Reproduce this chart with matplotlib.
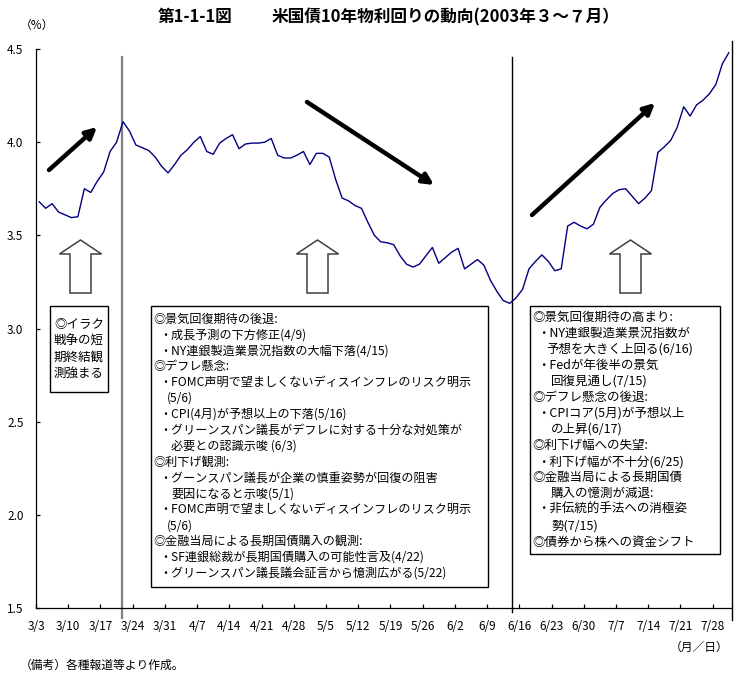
import matplotlib
matplotlib.use("Agg")
import matplotlib.pyplot as plt
from matplotlib.patches import Rectangle, Polygon

plt.rcParams['font.family'] = ['Noto Sans CJK JP', 'DejaVu Sans']

W, H = 755, 681

## 米国債10年物利回り (%), 2003/3/3～7/31 の営業日ごと
yields = [3.68, 3.645, 3.67, 3.625, 3.61, 3.595, 3.60, 3.75, 3.73, 3.79,
          3.84, 3.95, 4.00, 4.11, 4.06, 3.985, 3.97, 3.955, 3.92, 3.87,
          3.835, 3.88, 3.93, 3.96, 4.00, 4.03, 3.95, 3.935, 3.995, 4.02,
          4.04, 3.965, 3.99, 3.995, 3.995, 4.00, 4.02, 3.93, 3.915, 3.915,
          3.93, 3.95, 3.88, 3.94, 3.94, 3.92, 3.80, 3.70, 3.685, 3.66,
          3.645, 3.57, 3.50, 3.465, 3.46, 3.45, 3.39, 3.345, 3.33, 3.345,
          3.39, 3.435, 3.35, 3.38, 3.41, 3.43, 3.32, 3.345, 3.37, 3.34,
          3.26, 3.20, 3.15, 3.135, 3.165, 3.21, 3.32, 3.36, 3.395, 3.36,
          3.31, 3.32, 3.55, 3.57, 3.55, 3.535, 3.56, 3.65, 3.69, 3.725,
          3.745, 3.75, 3.71, 3.67, 3.70, 3.74, 3.945, 3.975, 4.01, 4.08,
          4.19, 4.14, 4.20, 4.225, 4.26, 4.31, 4.42, 4.48]

week_labels = ['3/3', '3/10', '3/17', '3/24', '3/31', '4/7', '4/14', '4/21',
               '4/28', '5/5', '5/12', '5/19', '5/26', '6/2', '6/9', '6/16',
               '6/23', '6/30', '7/7', '7/14', '7/21', '7/28']
y_ticks = [1.5, 2.0, 2.5, 3.0, 3.5, 4.0, 4.5]
period_breaks = [13.35, 73.8]

box1_lines = ['◎イラク', '戦争の短', '期終結観', '測強まる']

box2_lines = [
    (0, '◎景気回復期待の後退:'),
    (1, '・成長予測の下方修正(4/9)'),
    (1, '・NY連銀製造業景況指数の大幅下落(4/15)'),
    (0, '◎デフレ懸念:'),
    (1, '・FOMC声明で望ましくないディスインフレのリスク明示'),
    (2, '(5/6)'),
    (1, '・CPI(4月)が予想以上の下落(5/16)'),
    (1, '・グリーンスパン議長がデフレに対する十分な対処策が'),
    (3, '必要との認識示唆 (6/3)'),
    (0, '◎利下げ観測:'),
    (1, '・グーンスパン議長が企業の慎重姿勢が回復の阻害'),
    (3, '要因になると示唆(5/1)'),
    (1, '・FOMC声明で望ましくないディスインフレのリスク明示'),
    (2, '(5/6)'),
    (0, '◎金融当局による長期国債購入の観測:'),
    (1, '・SF連銀総裁が長期国債購入の可能性言及(4/22)'),
    (1, '・グリーンスパン議長議会証言から憶測広がる(5/22)'),
]

box3_lines = [
    (0, '◎景気回復期待の高まり:'),
    (1, '・NY連銀製造業景況指数が'),
    (2, '予想を大きく上回る(6/16)'),
    (1, '・Fedが年後半の景気'),
    (3, '回復見通し(7/15)'),
    (0, '◎デフレ懸念の後退:'),
    (1, '・CPIコア(5月)が予想以上'),
    (3, 'の上昇(6/17)'),
    (0, '◎利下げ幅への失望:'),
    (1, '・利下げ幅が不十分(6/25)'),
    (0, '◎金融当局による長期国債'),
    (3, '購入の憶測が減退:'),
    (1, '・非伝統的手法への消極姿'),
    (3, '勢(7/15)'),
    (0, '◎債券から株への資金シフト'),
]


def ff(x, y):
    # 画像のピクセル座標 -> figure 座標
    return (x / W, 1 - y / H)


fig = plt.figure(figsize=(W / 100, H / 100), dpi=100)
ax = fig.add_axes([36 / W, 1 - 608 / H, 696 / W, 559 / H])

x = [i + 0.5 for i in range(len(yields))]
ax.plot(x, yields, color='#000080', lw=1.0, zorder=3)

ax.set_xlim(0, len(yields))
ax.set_ylim(1.5, 4.5)
ax.set_yticks(y_ticks)
ax.set_yticklabels([f'{v:.1f}' for v in y_ticks], fontsize=8.5)
ax.set_xticks([5 * k for k in range(len(week_labels))])
ax.set_xticklabels(week_labels, fontsize=8.5)
ax.tick_params(direction='in', length=3, width=0.9, color='black')
ax.tick_params(axis='y', pad=9)
ax.tick_params(axis='x', pad=9)
for s in ['top', 'right']:
    ax.spines[s].set_visible(False)
for s in ['left', 'bottom']:
    ax.spines[s].set_linewidth(0.9)

## 期間の区切り線
ax.plot([period_breaks[0]] * 2, [4.457, 1.446], color='#808080', lw=1.6, clip_on=False)
ax.plot([period_breaks[1]] * 2, [4.457, 1.478], color='black', lw=1.0, clip_on=False)
ax.plot([len(yields)] * 2, [4.543, 1.436], color='black', lw=1.0, clip_on=False)

## 傾向の矢印
for (x0, y0), (x1, y1) in [((49, 170), (97, 127)), ((307, 102), (434, 185)), ((532, 215), (655, 103))]:
    ax.annotate('', xy=ff(x1, y1), xytext=ff(x0, y0), xycoords='figure fraction',
                textcoords='figure fraction',
                arrowprops=dict(arrowstyle='-|>', lw=3.2, color='black',
                                mutation_scale=16, shrinkA=0, shrinkB=0))

## 白抜きの上向き矢印
for tx in [80.5, 317.5, 630.5]:
    pts = [(tx, 240), (tx + 21, 254), (tx + 10.5, 254), (tx + 10.5, 293),
           (tx - 10.5, 293), (tx - 10.5, 254), (tx - 21, 254)]
    fig.patches.append(Polygon([ff(*p) for p in pts], closed=True, facecolor='white',
                               edgecolor='#404040', lw=1.1, transform=fig.transFigure))

## 説明ボックス
for (l, t, r, b) in [(50, 306, 108, 392), (151, 306, 488, 587), (530, 306, 720, 554)]:
    x0, y0 = ff(l, b)
    fig.patches.append(Rectangle((x0, y0), (r - l) / W, (b - t) / H, facecolor='white',
                                 edgecolor='black', lw=1.0, transform=fig.transFigure))

for k, s in enumerate(box1_lines):
    fig.text(*ff(79, 325 + 16 * k), s, fontsize=9, ha='center', va='center')

indent2 = [153, 159, 167, 171]
for k, (lv, s) in enumerate(box2_lines):
    fig.text(*ff(indent2[lv], 319 + 15.9 * k), s, fontsize=8.7, ha='left', va='center')

indent3 = [532, 537, 546, 551]
for k, (lv, s) in enumerate(box3_lines):
    fig.text(*ff(indent3[lv], 317 + 16.07 * k), s, fontsize=9, ha='left', va='center')

## タイトル・注記
fig.text(*ff(195, 17), '第1-1-1図', fontsize=12, fontweight='bold', ha='center', va='center')
fig.text(*ff(272, 17), '米国債10年物利回りの動向(2003年３～７月）', fontsize=12,
         fontweight='bold', ha='left', va='center')
fig.text(*ff(37, 25), '（%）', fontsize=8.5, ha='center', va='center')
fig.text(*ff(699, 647), '（月／日）', fontsize=8.5, ha='center', va='center')
fig.text(*ff(20, 665), '（備考）各種報道等より作成。', fontsize=8.5, ha='left', va='center')

fig.savefig('out.png', dpi=100)
